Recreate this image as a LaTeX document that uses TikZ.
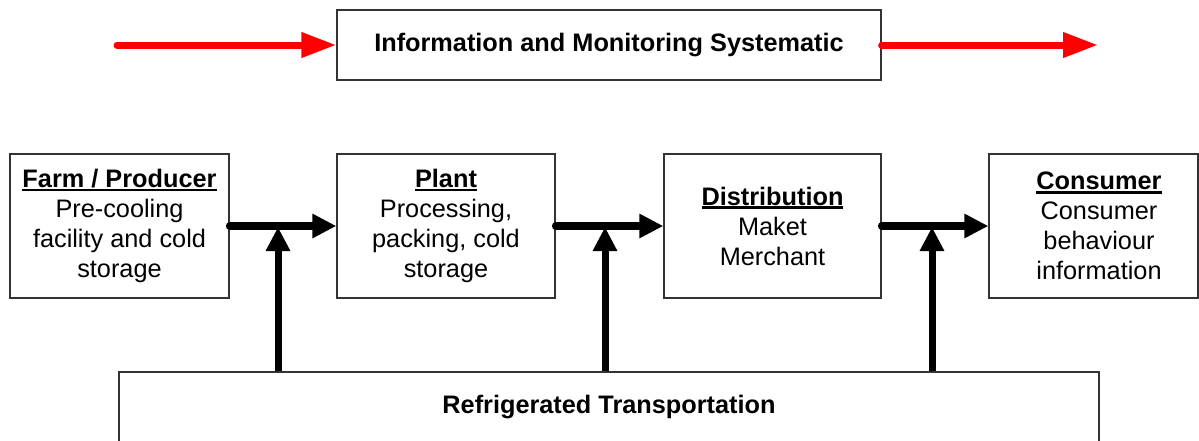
\documentclass[tikz,border=0pt]{standalone}
\usepackage{fontspec}
\setmainfont{Liberation Sans}
\usetikzlibrary{arrows.meta}
\newcommand\ulhead[1]{\setbox0\hbox{\textbf{#1}}\rlap{\usebox0}\rule[-3.8pt]{\wd0}{2.4pt}}
\begin{document}
\begin{tikzpicture}[x=1pt,y=-1pt,
  box/.style={draw=black!80,line width=1.3pt,inner sep=0pt,align=center,
    font=\fontsize{25.3}{30}\selectfont},
  boxtext/.style={inner sep=0pt,align=center,font=\fontsize{25.3}{30}\selectfont},
  flow/.style={line width=7.5pt,-{Triangle[length=24pt,width=23pt]}},
  redflow/.style={draw=red,line width=7pt,line cap=round,-{Triangle[length=35pt,width=24pt]}}]
\useasboundingbox (0,0) rectangle (1199,440);
\node[box,minimum width=544pt,minimum height=70pt] (info) at (609,45) {\textbf{Information and Monitoring Systematic}};
\node[box,minimum width=219pt,minimum height=144pt] (farm) at (119.5,226) {\ulhead{Farm / Producer}\\Pre-cooling\\facility and cold\\storage};
\node[box,minimum width=218pt,minimum height=144pt] (plant) at (446,226) {\ulhead{Plant}\\Processing,\\packing, cold\\storage};
\node[box,minimum width=217pt,minimum height=144pt] (dist) at (772.5,226) {\ulhead{Distribution}\\Maket\\Merchant};
\node[box,minimum width=209pt,minimum height=144pt] (cons) at (1093.5,226) {};
\node[boxtext] (constext) at (1099,226) {\ulhead{Consumer}\\Consumer\\behaviour\\information};
\node[box,minimum width=980pt,minimum height=70pt] (trans) at (609,407) {\textbf{Refrigerated Transportation}};
\coordinate (rl) at (117,45);
\coordinate (rr) at (1098,45);
\draw[redflow] (rl) -- (info.west);
\draw[redflow] (info.east) -- (rr);
\draw[flow,line cap=round] (farm.east) -- (plant.west);
\draw[flow,line cap=round] (plant.east) -- (dist.west);
\draw[flow,line cap=round] (dist.east) -- (cons.west);
\coordinate (j1) at (278,227);
\coordinate (j2) at (605,227);
\coordinate (j3) at (932,227);
\draw[flow,line width=7pt] (j1 |- trans.north) -- (j1);
\draw[flow,line width=7pt] (j2 |- trans.north) -- (j2);
\draw[flow,line width=7pt] (j3 |- trans.north) -- (j3);
\end{tikzpicture}
\end{document}
